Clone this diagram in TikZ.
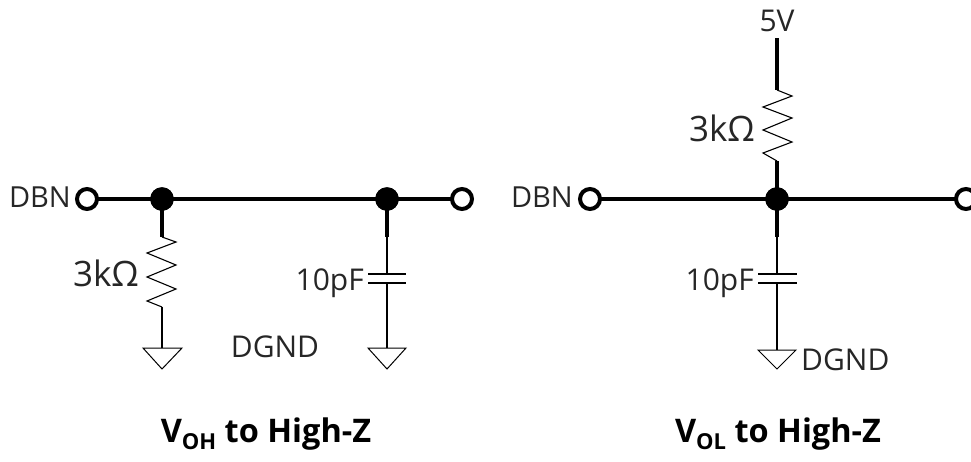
\documentclass[tikz,border=0pt]{standalone}
\usepackage{fontspec}
\setmainfont{Open Sans}
\tikzset{
  thick wire/.style={line width=4pt,black},
  thin wire/.style={line width=1.4pt,black},
  zig/.style={line width=1.1pt,black,line join=miter},
  terminal/.style={circle,draw=black,fill=white,line width=4pt,minimum size=20pt,inner sep=0pt},
  junction/.style={circle,fill=black,minimum size=23.5pt,inner sep=0pt},
  lab/.style={inner sep=0pt,text=black!85,font=\fontsize{30}{30}\selectfont},
  biglab/.style={lab,font=\fontsize{35}{35}\selectfont},
  dbnlab/.style={lab,font=\fontsize{29}{29}\selectfont},
  titletext/.style={inner sep=0pt,text=black,font=\fontsize{32.5}{32.5}\selectfont\bfseries},
  plate/.style={line width=1.4pt,black},
  gnd/.style={line width=1pt,black,line join=miter}
}
\begin{document}
\begin{tikzpicture}[x=1pt,y=-1pt]
\useasboundingbox (0,0) rectangle (971,461);
% Left circuit
\coordinate (la1) at (162,237);
\coordinate (la2) at (387,237);
\coordinate (lrb) at (162,307);
\coordinate (lg1) at (162,348);
\coordinate (lg2) at (387,348);
\coordinate (lp1) at (387,274);
\coordinate (lp2) at (387,283);
\node[junction] (lj1) at (162,199) {};
\node[junction] (lj2) at (387,199) {};
\draw[thick wire] (87,199) -- (462,199);
\node[terminal] (lt1) at (87,199) {};
\node[terminal] (lt2) at (462,199) {};
\node[junction] at (lj1) {};
\node[junction] at (lj2) {};
\draw[thick wire] (lj1.center) -- (la1);
\draw[thick wire] (lj2.center) -- (la2);
\draw[zig] (la1) -- (176,242) -- (147,253) -- (176,265) -- (147,277) -- (176,289) -- (147,301) -- (lrb);
\draw[thin wire] (lrb) -- (lg1);
\draw[thin wire] (la2) -- (lp1);
\draw[thin wire] (lp2) -- (lg2);
\draw[plate] (368,274) -- (406,274);
\draw[plate] (368,283) -- (406,283);
\draw[gnd] (143,348) -- (182,348) -- (162,369) -- cycle;
\draw[gnd] (368,348) -- (406,348) -- (387,369) -- cycle;
\node[dbnlab,anchor=east] (ldbn) at (71,197) {DBN};
\node[biglab,anchor=east] (lr) at (139,273) {3kΩ};
\node[lab,anchor=east] (lc) at (364,283) {10pF};
\node[lab] (lgnd) at (275,347) {DGND};
\node[titletext,anchor=base] (ltitle) at (266,442) {V\raisebox{-7pt}{\fontsize{22}{22}\selectfont OH} to High-Z};
% Right circuit
\coordinate (rv) at (777,38);
\coordinate (rra) at (777,90);
\coordinate (rrb) at (777,161);
\coordinate (rb) at (777,237);
\coordinate (rp1) at (777,274);
\coordinate (rp2) at (777,283);
\coordinate (rg) at (777,350);
\node[junction] (rj) at (777,199) {};
\draw[thick wire] (590,199) -- (966,199);
\node[terminal] (rt1) at (590,199) {};
\node[terminal] (rt2) at (966,199) {};
\draw[thick wire] (rv) -- (rra);
\draw[thick wire] (rrb) -- (rb);
\node[junction] at (rj) {};
\draw[zig] (rra) -- (792,96) -- (763,107) -- (792,118) -- (763,130) -- (792,142) -- (763,153) -- (rrb);
\draw[thin wire] (rb) -- (rp1);
\draw[thin wire] (rp2) -- (rg);
\draw[plate] (758,274) -- (797,274);
\draw[plate] (758,283) -- (797,283);
\draw[gnd] (758,350) -- (796,350) -- (777,369) -- cycle;
\node[lab] (rfive) at (777,21) {5V};
\node[biglab,anchor=east] (rr) at (755,128) {3kΩ};
\node[dbnlab,anchor=east] (rdbn) at (573,197) {DBN};
\node[lab,anchor=east] (rc) at (754,283) {10pF};
\node[lab,anchor=west] (rgnd) at (801,360) {DGND};
\node[titletext,anchor=base] (rtitle) at (778,442) {V\raisebox{-7pt}{\fontsize{22}{22}\selectfont OL} to High-Z};
\end{tikzpicture}
\end{document}
